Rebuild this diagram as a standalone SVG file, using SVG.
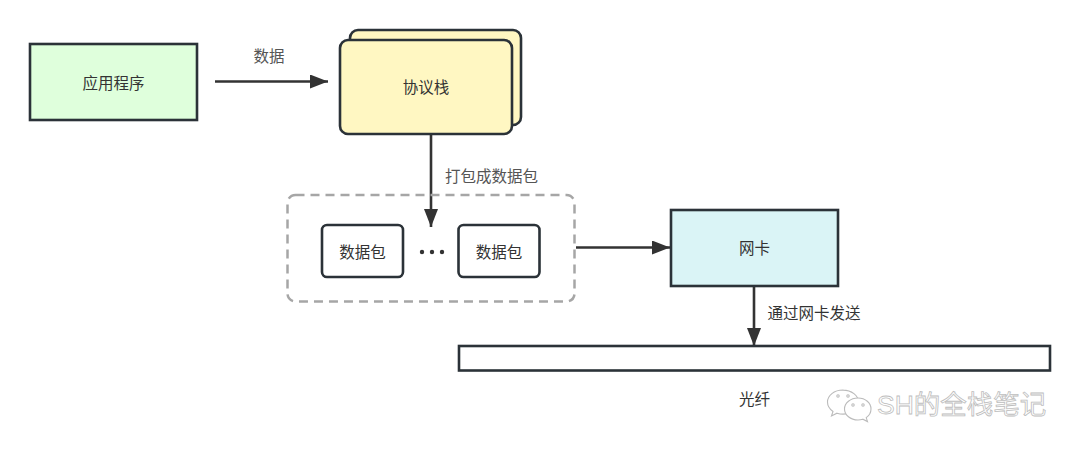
<svg xmlns="http://www.w3.org/2000/svg" width="1080" height="452" viewBox="0 0 1080 452">
<style>
text{font-family:"Liberation Sans","Noto Sans CJK SC",sans-serif;font-size:15.500px;fill:#333;text-anchor:middle}
.lbl{fill:#555}
.n{stroke:#2b3238;stroke-width:2.600}
.c{fill:none;stroke:#333;stroke-width:2.600}
.wm{font-size:26.500px;fill:#fff;stroke:#bdbdbd;stroke-width:.8;text-anchor:start}
.wi{fill:#fff;stroke:#bbb;stroke-width:1.100}
</style>
<defs><marker id="a" markerUnits="userSpaceOnUse" markerWidth="20" markerHeight="14" refX="18" refY="7" orient="auto"><path d="M0 0L18 7L0 14Z" fill="#333"/></marker></defs>
<rect width="1080" height="452" fill="#fff"/>
<g id="connectors">
<path class="c" d="M215 81.500H328" marker-end="url(#a)"/>
<path class="c" d="M431 134V227" marker-end="url(#a)"/>
<path class="c" d="M576 247.500H670" marker-end="url(#a)"/>
<path class="c" d="M754 286V346" marker-end="url(#a)"/>
</g>
<g id="app"><rect class="n" x="30" y="44" width="167" height="76" fill="#dfffdc"/><text x="113.500" y="89">应用程序</text></g>
<g id="stack"><rect class="n" x="350" y="30" width="171" height="95" rx="8" fill="#fff7c2"/><rect class="n" x="340" y="40" width="172" height="94" rx="8" fill="#fff7c2"/><text x="426" y="93">协议栈</text></g>
<g id="group"><rect x="287.500" y="195" width="287" height="106.500" rx="8" fill="none" stroke="#a6a6a6" stroke-width="2.500" stroke-dasharray="9 6"/></g>
<g id="pkt1"><rect class="n" x="322" y="225" width="81" height="52" rx="5" fill="#fff"/><text x="362.500" y="257.500">数据包</text></g>
<g id="dots"><circle cx="422" cy="252" r="2.200" fill="#333"/><circle cx="432" cy="252" r="2.200" fill="#333"/><circle cx="442" cy="252" r="2.200" fill="#333"/></g>
<g id="pkt2"><rect class="n" x="458.500" y="225" width="81" height="52" rx="5" fill="#fff"/><text x="499" y="257.500">数据包</text></g>
<g id="nic"><rect class="n" x="671" y="210" width="167" height="76" fill="#daf4f6"/><text x="754.500" y="254">网卡</text></g>
<g id="fiber"><rect class="n" x="459" y="346" width="591" height="24.500" fill="#fff"/></g>
<text class="lbl" x="269" y="61.500">数据</text>
<text class="lbl" x="491.500" y="181.500">打包成数据包</text>
<text x="814" y="318.500">通过网卡发送</text>
<text x="754.500" y="404.500">光纤</text>
<g id="watermark">
<path class="wi" d="M843 390c-9 0-15.500 5.500-15.500 12 0 4 2 7 5.500 9.500l-1.500 4.500 5.500-2.800c2 .6 4 .9 6 .9 8.500 0 15.500-5.500 15.500-12s-7-12-15.500-12Z"/>
<circle class="wi" cx="838" cy="396" r="1.200"/><circle class="wi" cx="848" cy="396" r="1.200"/>
<path class="wi" d="M858 398c-7.500 0-13.500 5-13.500 11s6 11 13.500 11c1.700 0 3.300-.3 4.800-.8l4.700 2.400-1.300-4c3-2 4.800-5 4.800-8.600 0-6-5.500-11-13-11Z"/>
<circle class="wi" cx="853" cy="405" r="1.200"/><circle class="wi" cx="863" cy="405" r="1.200"/>
<text class="wm" x="877" y="413.500">SH的全栈笔记</text>
</g>
</svg>
